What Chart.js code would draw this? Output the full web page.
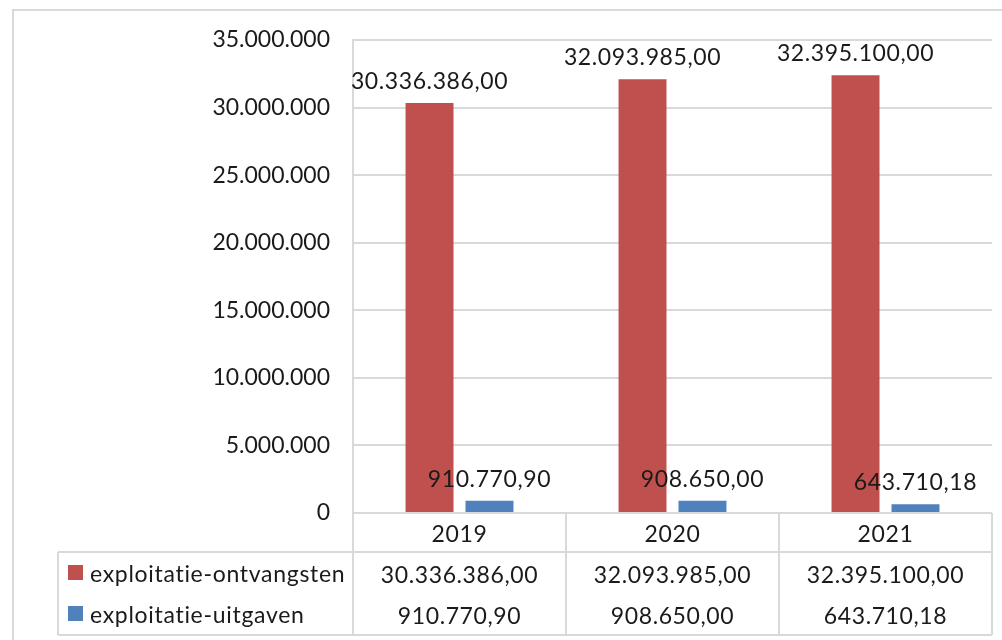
<!DOCTYPE html>
<html>
<head>
<meta charset="utf-8">
<script src="https://cdn.jsdelivr.net/npm/chart.js@4.4.0/dist/chart.umd.min.js"></script>
<style>
html,body{margin:0;padding:0;background:#fff;}
</style>
</head>
<body>
<canvas id="chart" width="1002" height="640"></canvas>
<script>
// values
var years = ['2019', '2020', '2021'];
var seriesNames = ['exploitatie-ontvangsten', 'exploitatie-uitgaven'];
var ontvangsten = [30336386.00, 32093985.00, 32395100.00];
var uitgaven = [910770.90, 908650.00, 643710.18];
var yMax = 35000000;
var yStep = 5000000;

var red = '#C0504D';
var blue = '#4F81BD';
var lineGray = '#D9D9D9';
var textCol = '#1a1a1a';
var font = '23px Lato, "Open Sans", sans-serif';

function dots(s) {
  return String(s).replace(/\B(?=(\d{3})+(?!\d))/g, '.');
}
function money(v) {
  var p = v.toFixed(2).split('.');
  return dots(p[0]) + ',' + p[1];
}

// outer frame of the chart (cropped on the right and bottom)
var framePlugin = {
  id: 'frame',
  beforeDraw: function(chart) {
    var ctx = chart.ctx;
    ctx.save();
    ctx.strokeStyle = lineGray;
    ctx.lineWidth = 2;
    ctx.beginPath();
    ctx.moveTo(13, 640);
    ctx.lineTo(13, 10);
    ctx.lineTo(1002, 10);
    ctx.stroke();
    ctx.restore();
  }
};

// value labels above the bars
var labelPlugin = {
  id: 'barLabels',
  afterDatasetsDraw: function(chart) {
    var ctx = chart.ctx;
    ctx.save();
    ctx.font = font;
    ctx.letterSpacing = '0.6px';
    ctx.fillStyle = textCol;
    ctx.textAlign = 'center';
    ctx.textBaseline = 'alphabetic';
    chart.data.datasets.forEach(function(ds, i) {
      var meta = chart.getDatasetMeta(i);
      meta.data.forEach(function(bar, j) {
        ctx.fillText(money(ds.data[j]), bar.x, bar.y - 14);
      });
    });
    ctx.restore();
  }
};

// data table under the plot, with legend keys
var tablePlugin = {
  id: 'dataTable',
  afterDraw: function(chart) {
    var ctx = chart.ctx;
    var a = chart.chartArea;
    var n = years.length;
    var cw = (a.right - a.left) / n;
    var catBottom = 552;
    var tblBottom = 635;
    var tblLeft = 58;
    ctx.save();
    ctx.strokeStyle = lineGray;
    ctx.lineWidth = 2;
    ctx.beginPath();
    // category row + value rows
    for (var i = 0; i <= n; i++) {
      var x = a.left + i * cw;
      ctx.moveTo(x, a.bottom);
      ctx.lineTo(x, tblBottom);
    }
    ctx.moveTo(a.left, a.bottom);
    ctx.lineTo(a.right, a.bottom);
    ctx.moveTo(tblLeft, catBottom);
    ctx.lineTo(a.right, catBottom);
    ctx.moveTo(tblLeft, tblBottom);
    ctx.lineTo(a.right, tblBottom);
    ctx.moveTo(tblLeft, catBottom);
    ctx.lineTo(tblLeft, tblBottom);
    ctx.stroke();

    ctx.font = font;
    ctx.letterSpacing = '0.6px';
    ctx.fillStyle = textCol;
    ctx.textBaseline = 'alphabetic';
    ctx.textAlign = 'center';
    var rows = [ontvangsten, uitgaven];
    var baselines = [583, 624];
    for (var k = 0; k < n; k++) {
      var cx = a.left + (k + 0.5) * cw;
      ctx.fillText(years[k], cx, 542);
      for (var r = 0; r < rows.length; r++) {
        ctx.fillText(money(rows[r][k]), cx, baselines[r]);
      }
    }
    // legend keys + names
    var cols = [red, blue];
    var keyTops = [565, 606];
    ctx.textAlign = 'left';
    ctx.letterSpacing = '0.7px';
    for (var s = 0; s < seriesNames.length; s++) {
      ctx.fillStyle = cols[s];
      ctx.fillRect(68, keyTops[s], 15, 15);
      ctx.fillStyle = textCol;
      ctx.fillText(seriesNames[s], 90, baselines[s] - 1);
    }
    ctx.restore();
  }
};

var ctx = document.getElementById('chart').getContext('2d');
var chart = new Chart(ctx, {
  type: 'bar',
  data: {
    labels: years,
    datasets: [{
      label: seriesNames[0],
      data: ontvangsten,
      backgroundColor: red,
      categoryPercentage: 0.563,
      barPercentage: 0.8
    }, {
      label: seriesNames[1],
      data: uitgaven,
      backgroundColor: blue,
      categoryPercentage: 0.563,
      barPercentage: 0.8
    }]
  },
  options: {
    responsive: false,
    animation: false,
    layout: { padding: { left: 0, top: 40, right: 10, bottom: 127 } },
    plugins: {
      legend: { display: false },
      tooltip: { enabled: false }
    },
    scales: {
      x: { display: false },
      y: {
        min: 0,
        max: yMax,
        afterFit: function(scale) { scale.width = 353; },
        ticks: {
          stepSize: yStep,
          padding: 23,
          color: textCol,
          font: { family: 'Lato, "Open Sans", sans-serif', size: 23 },
          callback: function(v) { return dots(v); }
        },
        grid: { color: lineGray, lineWidth: 2, drawTicks: false },
        border: { color: lineGray, width: 2 }
      }
    }
  },
  plugins: [framePlugin, labelPlugin, tablePlugin]
});
</script>
</body>
</html>
